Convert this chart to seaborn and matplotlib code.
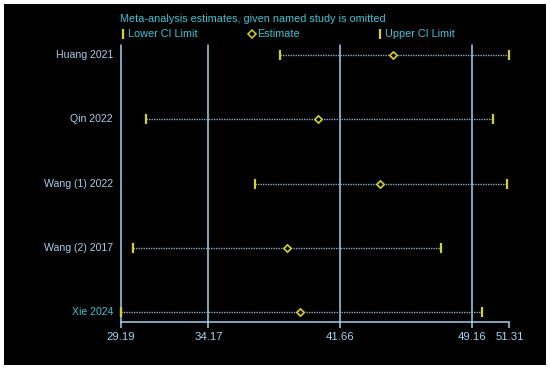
import matplotlib
matplotlib.use("Agg")
import matplotlib.pyplot as plt
import seaborn as sns
import pandas as pd
import numpy as np
from matplotlib import font_manager

studies = ["Huang 2021", "Qin 2022", "Wang (1) 2022", "Wang (2) 2017", "Xie 2024"]
lower = [38.24, 30.61, 36.82, 29.85, 29.19]
estimate = [44.66, 40.43, 43.94, 38.62, 39.41]
upper = [51.31, 50.39, 51.17, 47.41, 49.73]
tick_values = [29.19, 34.17, 41.66, 49.16, 51.31]
tick_labels = ["29.19", "34.17", "41.66", "49.16", "51.31"]
ref_lines = [29.19, 34.17, 41.66, 49.16]
title = "Meta-analysis estimates, given named study is omitted"

sns.set_theme(style="dark")
names = {f.name for f in font_manager.fontManager.ttflist}
narrow = "Liberation Sans Narrow" in names
if narrow:
    plt.rcParams['font.family'] = ['Liberation Sans Narrow', 'DejaVu Sans']
    fs_scale, fw = 1.13, "bold"
else:
    plt.rcParams['font.family'] = ['Liberation Sans', 'DejaVu Sans']
    fs_scale, fw = 1.0, "normal"

W, H = 550, 369
fig = plt.figure(figsize=(W / 100, H / 100), dpi=100, facecolor="white")
ax = fig.add_axes([4 / W, 4 / H, 542 / W, 361 / H])
ax.set_facecolor("black")

df = pd.DataFrame({"study": studies, "lower": lower, "estimate": estimate,
                   "upper": upper, "row": np.arange(len(studies))})

yellow = "#d6d31e"
cyan = "#3fc3d3"
lblue = "#a3d3ee"
lab_blue = "#a9cbea"
dotc = "#8aa9c2"

# reference vertical lines
for v in ref_lines:
    ax.plot([v, v], [-0.156, 4.156], color=lblue, lw=1.1, zorder=1)

# dotted CI lines
ax.hlines(df["row"], df["lower"], df["upper"], colors=dotc, linestyles=(0, (1, 0.8)), lw=1.0, zorder=2)

sns.scatterplot(data=df, x="lower", y="row", marker="|", s=45, color=yellow, linewidth=1.6, ax=ax, zorder=3, legend=False)
sns.scatterplot(data=df, x="upper", y="row", marker="|", s=45, color=yellow, linewidth=1.6, ax=ax, zorder=3, legend=False)
sns.scatterplot(data=df, x="estimate", y="row", marker="D", s=14, facecolor="black", edgecolor=yellow, linewidth=1.2, ax=ax, zorder=4, legend=False)

for i, s in enumerate(studies):
    ax.text(29.19 - 8 / 17.56, i, s, ha="right", va="center", color=lab_blue if i < 4 else cyan,
            fontsize=7.6 * fs_scale, fontweight=fw)

ax.set_xlim(29.19 + (4 - 121) / 17.56, 29.19 + (546 - 121) / 17.56)
ax.set_ylim((365 - 55) / 64.25, (4 - 55) / 64.25)

for sp in ["top", "right", "left"]:
    ax.spines[sp].set_visible(False)
ax.spines["bottom"].set_position(("data", 4.156))
ax.spines["bottom"].set_bounds(29.19, 51.31)
ax.spines["bottom"].set_color(lblue)
ax.spines["bottom"].set_linewidth(1.1)
ax.set_xticks(tick_values)
ax.set_xticklabels(tick_labels, fontweight=fw)
ax.tick_params(axis="x", colors=lblue, direction="out", length=4, width=1.1, labelsize=8.2 * fs_scale, pad=3, bottom=True)
ax.set_yticks([])
ax.set_xlabel("")
ax.set_ylabel("")
ax.grid(False)

def px(x, y):
    return x / W, 1 - y / H

fig.text(*px(253, 19), title, ha="center", va="center", color=cyan, fontsize=7.8 * fs_scale, fontweight=fw)
legend_items = [(123, "|", "Lower CI Limit"), (252, "D", "Estimate"), (380, "|", "Upper CI Limit")]
for x0, m, lab in legend_items:
    fx, fy = px(x0, 34)
    if m == "|":
        fig.lines.append(plt.Line2D([fx], [fy], marker="|", markersize=7, mew=1.6, color=yellow, transform=fig.transFigure))
    else:
        fig.lines.append(plt.Line2D([fx], [fy], marker="D", markersize=3.8, mew=1.1, mfc="black", mec=yellow, transform=fig.transFigure))
    fig.text(*px(x0 + 5, 34), lab, ha="left", va="center", color=cyan, fontsize=7.8 * fs_scale, fontweight=fw)

fig.savefig("out.png", dpi=100, facecolor="white")
